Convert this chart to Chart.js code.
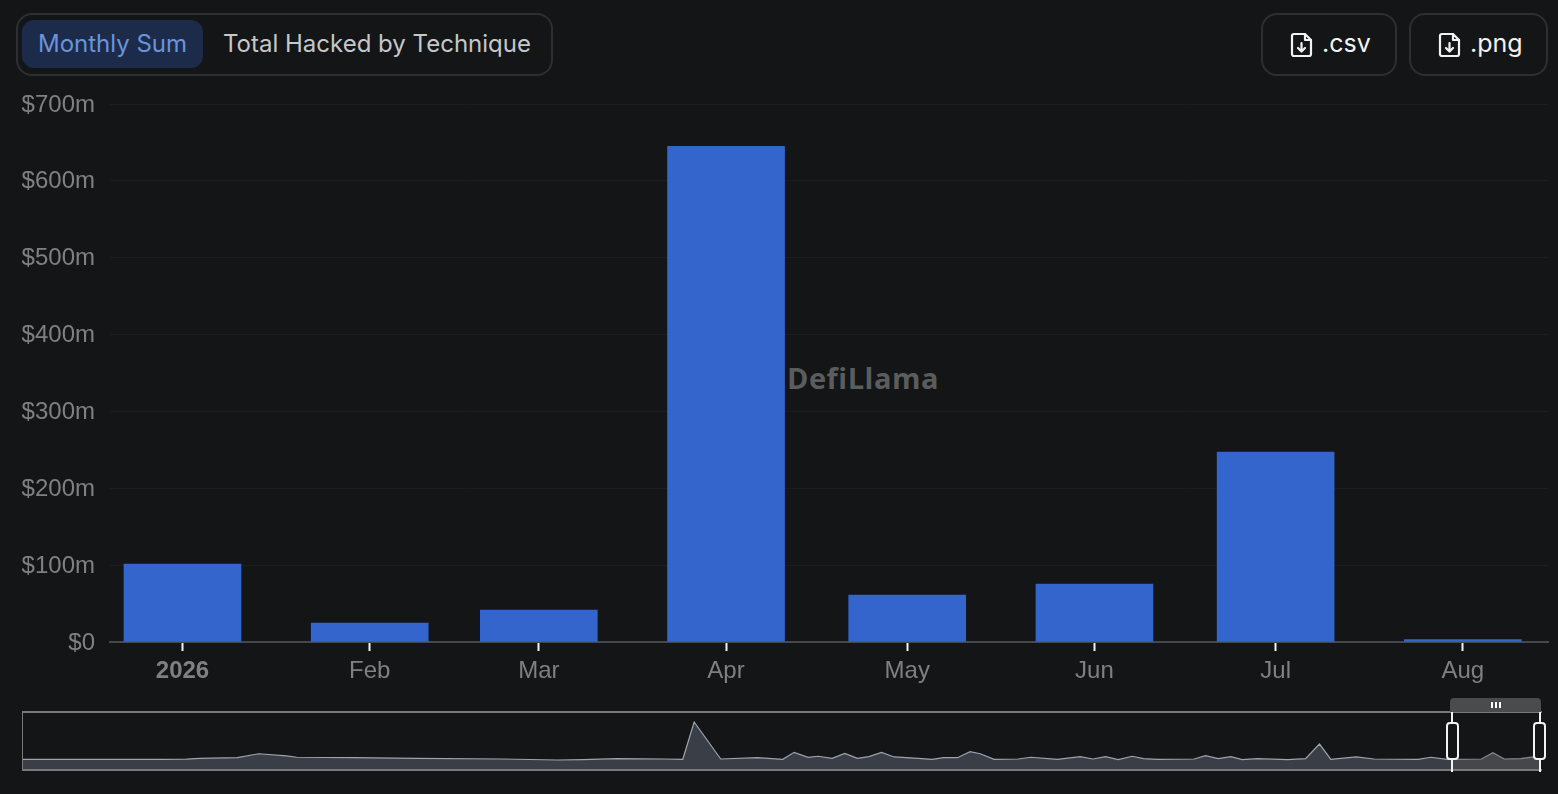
<!DOCTYPE html>
<html lang="en">
<head>
    <meta charset="UTF-8">
    <title>Monthly Sum</title>
    <script src="https://cdn.jsdelivr.net/npm/chart.js"></script>
    <style>
        html, body { margin: 0; padding: 0; background: #131517; }
        body { width: 1558px; height: 794px; position: relative; overflow: hidden; font-family: Inter, Arial, sans-serif; }
        .abs { position: absolute; box-sizing: border-box; }
        .group { left: 16px; top: 13px; width: 537px; height: 63px; border: 2px solid #2d2f33; border-radius: 16px; }
        .tab { top: 20px; height: 48px; line-height: 47px; font-size: 24px; white-space: nowrap; }
        .tab.on { left: 22px; width: 181px; background: #1c2b49; border-radius: 12px; color: #6b93dd; text-align: center; }
        .tab.off { left: 223px; color: #c6c7c8; }
        .btn { top: 13px; height: 63px; border: 2px solid #2d2f33; border-radius: 16px; color: #f2f2f2; font-size: 25px; line-height: 57px; white-space: nowrap; }
        .btn svg { position: absolute; left: 27px; top: 17px; }
        .btn span { position: absolute; left: 59px; }
        #logo { left: 787px; top: 358px; font: bold 29px "Open Sans", sans-serif; color: #5b5c5e; letter-spacing: 0.5px; white-space: nowrap; }
        #main { left: 0; top: 0; }
        #mini { left: 22px; top: 712px; }
        .frame { left: 22px; top: 711px; width: 1520px; height: 60px; border: 2px solid #777a7c; border-left-width: 1px; border-right: 0; }
        .tabbar { left: 1450px; top: 698px; width: 91px; height: 14px; background: #4a4b4d; border-radius: 4px 4px 0 0; }
        .grip { top: 702px; width: 2px; height: 6px; background: #fff; }
        .edge { top: 712px; width: 2px; height: 60px; background: #f2f2f2; }
        .handle { top: 722px; width: 13px; height: 38px; border: 2px solid #f2f2f2; border-radius: 4px; background: #131517; }
    </style>
</head>
<body>

    <div class="abs group"></div>
    <div class="abs tab on">Monthly Sum</div>
    <div class="abs tab off">Total Hacked by Technique</div>

    <div class="abs btn" style="left:1261px;width:136px">
        <svg width="24" height="26" viewBox="0 0 24 26" fill="none" stroke="#f2f2f2" stroke-width="2.2" stroke-linejoin="round" stroke-linecap="round"><path d="M4 2h11l6 6v14a2 2 0 0 1-2 2H4a2 2 0 0 1-2-2V4a2 2 0 0 1 2-2z"/><path d="M15 2v6h6"/><path d="M11.500 11v8M8 16l3.500 3.500L15 16"/></svg>
        <span>.csv</span>
    </div>
    <div class="abs btn" style="left:1409px;width:139px">
        <svg width="24" height="26" viewBox="0 0 24 26" fill="none" stroke="#f2f2f2" stroke-width="2.2" stroke-linejoin="round" stroke-linecap="round"><path d="M4 2h11l6 6v14a2 2 0 0 1-2 2H4a2 2 0 0 1-2-2V4a2 2 0 0 1 2-2z"/><path d="M15 2v6h6"/><path d="M11.500 11v8M8 16l3.500 3.500L15 16"/></svg>
        <span>.png</span>
    </div>

    <div class="abs" id="logo">DefiLlama</div>
    <canvas class="abs" id="main" width="1558" height="690"></canvas>

    <canvas class="abs" id="mini" width="1519" height="58"></canvas>
    <div class="abs frame"></div>
    <div class="abs tabbar"></div>
    <div class="abs grip" style="left:1491px"></div>
    <div class="abs grip" style="left:1495px"></div>
    <div class="abs grip" style="left:1499px"></div>
    <div class="abs edge" style="left:1451px"></div>
    <div class="abs edge" style="left:1539px"></div>
    <div class="abs handle" style="left:1446px"></div>
    <div class="abs handle" style="left:1533px"></div>

    <script>
        // days since Jan 1 for each monthly bar
        var monthDays = [0, 31, 59, 90, 120, 151, 181, 212];
        var monthLabels = ['2026', 'Feb', 'Mar', 'Apr', 'May', 'Jun', 'Jul', 'Aug'];
        var monthlySum = [101.5, 24.7, 41.6, 645, 61, 75.5, 247, 3];
        var yTicks = [0, 100, 200, 300, 400, 500, 600, 700];

        // overview strip: months since the start of the series, and $m
        var miniMonths = [0, 11.1, 13, 14, 17, 18.7, 20.9, 21.7, 26.2, 31.2, 38, 42.3, 44.3, 47, 50.8, 52.2, 53.1, 55.2, 58.1, 60.1, 61, 62.1, 62.9, 64, 65, 66, 66.9, 67.9, 68.9, 70.8, 71.9, 72.8, 73.9, 74.9, 75.7, 76.8, 78.7, 79.7, 81.8, 83.6, 84.6, 85.6, 86.6, 87.7, 88.6, 89.7, 92.6, 93.5, 94.5, 95.5, 96.4, 97.6, 100, 101.4, 102.5, 103.4, 105.4, 106.8, 110.3, 111.3, 112.6, 113, 115.3, 116.2, 117.1, 118.4, 119.4, 120];
        var miniValues = [120, 120, 130, 220, 280, 670, 450, 320, 280, 220, 150, 50, 80, 180, 150, 120, 3810, 150, 280, 120, 810, 320, 420, 220, 710, 220, 380, 810, 350, 220, 120, 280, 280, 870, 670, 120, 150, 320, 120, 380, 150, 380, 80, 420, 180, 120, 150, 480, 180, 380, 80, 180, 80, 180, 1630, 120, 350, 150, 120, 320, 120, 120, 150, 770, 150, 180, 350, 180];
        var windowStart = 113;

        var axisFont = 'Arial, "Liberation Sans", sans-serif';

        new Chart(document.getElementById('main'), {
            type: 'bar',
            data: {
                datasets: [{
                    data: monthDays.map(function(d, i) { return { x: d, y: monthlySum[i] }; }),
                    backgroundColor: '#3465cc',
                    barThickness: 117
                }]
            },
            options: {
                responsive: false,
                animation: false,
                layout: { padding: { top: 104, right: 10, left: 0, bottom: 0 } },
                plugins: { legend: { display: false }, tooltip: { enabled: false } },
                scales: {
                    x: {
                        type: 'linear',
                        offset: false,
                        min: -12,
                        max: 226.1,
                        afterBuildTicks: function(s) { s.ticks = monthDays.map(function(d) { return { value: d }; }); },
                        afterFit: function(s) { s.height = 48; },
                        grid: { offset: false, drawOnChartArea: false, tickColor: '#f2f2f2', tickWidth: 2, tickLength: 9 },
                        border: { color: '#46484c', width: 2 },
                        ticks: {
                            autoSkip: false,
                            maxRotation: 0,
                            padding: 6,
                            color: '#7e8082',
                            callback: function(v) { return monthLabels[monthDays.indexOf(v)]; },
                            font: function(c) {
                                return { family: axisFont, size: 24, weight: c.index === 0 ? 'bold' : 'normal' };
                            }
                        }
                    },
                    y: {
                        min: 0,
                        max: 700,
                        afterBuildTicks: function(s) { s.ticks = yTicks.map(function(v) { return { value: v }; }); },
                        afterFit: function(s) { s.width = 110; },
                        grid: { color: '#1b1d20', drawTicks: false },
                        border: { display: false },
                        ticks: {
                            padding: 15,
                            labelOffset: 1,
                            color: '#7e8082',
                            font: { family: axisFont, size: 24 },
                            callback: function(v) { return v === 0 ? '$0' : '$' + v + 'm'; }
                        }
                    }
                }
            }
        });

        var miniPoints = miniMonths.map(function(m, i) { return { x: m, y: miniValues[i] }; });

        new Chart(document.getElementById('mini'), {
            type: 'line',
            data: {
                datasets: [{
                    data: miniPoints.filter(function(p) { return p.x <= windowStart; }),
                    borderColor: '#9ea3b0',
                    borderWidth: 1.2,
                    backgroundColor: '#3a3e46',
                    fill: 'start',
                    pointRadius: 0,
                    tension: 0
                }, {
                    data: miniPoints.filter(function(p) { return p.x >= windowStart; }),
                    borderColor: '#8a8b8e',
                    borderWidth: 1.2,
                    backgroundColor: '#46474a',
                    fill: 'start',
                    pointRadius: 0,
                    tension: 0
                }]
            },
            options: {
                responsive: false,
                animation: false,
                plugins: { legend: { display: false }, tooltip: { enabled: false } },
                scales: {
                    x: { type: 'linear', min: 0, max: 120, display: false },
                    y: { min: -940, max: 4800, display: false }
                }
            }
        });
    </script>

</body>
</html>
